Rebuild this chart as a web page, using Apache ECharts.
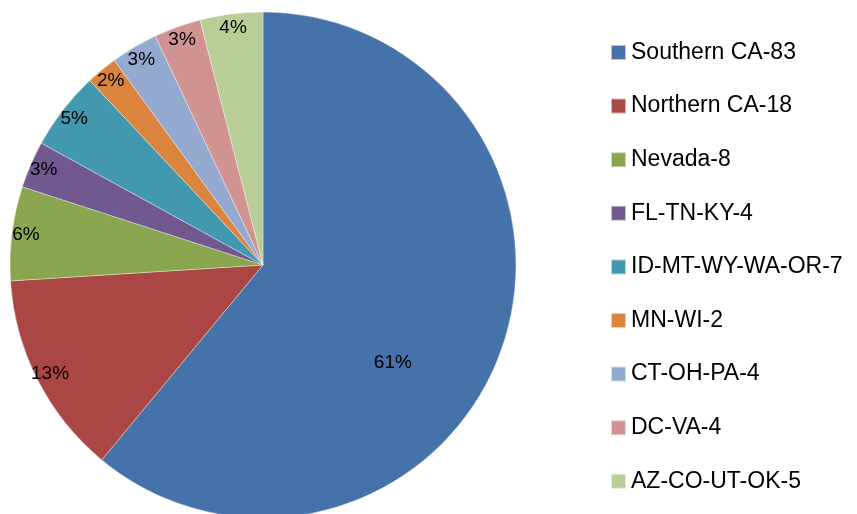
<!DOCTYPE html>
<html>
<head>
<meta charset="utf-8">
<script src="https://cdn.jsdelivr.net/npm/echarts@6/dist/echarts.min.js"></script>
<style>
html,body{margin:0;padding:0;background:#fff;}
#chart{width:857px;height:514px;}
</style>
</head>
<body>
<div id="chart"></div>
<script>
const categories = ['Southern CA-83','Northern CA-18','Nevada-8','FL-TN-KY-4','ID-MT-WY-WA-OR-7','MN-WI-2','CT-OH-PA-4','DC-VA-4','AZ-CO-UT-OK-5'];
const percents = [61, 13, 6, 3, 5, 2, 3, 3, 4];
const colors = ['#4572A8','#AA4643','#89A54E','#71588F','#4198AF','#DB843D','#93A9CF','#D19392','#B9CD96'];

const font = '"Liberation Sans", Arial, sans-serif';
const center = [263, 265];
const R = 253;

const mainData = categories.map((name, i) => {
  const d = { name: name, value: percents[i], itemStyle: { color: colors[i] } };
  if (i === 0) {
    d.label = { show: true };
  }
  return d;
});

const labelData = categories.map((name, i) => ({
  name: name,
  value: percents[i],
  label: { show: i !== 0 }
}));

const option = {
  animation: false,
  backgroundColor: '#fff',
  legend: {
    orient: 'vertical',
    left: 605,
    top: 36,
    itemWidth: 15,
    itemHeight: 15,
    itemGap: 30.6,
    icon: 'rect',
    selectedMode: false,
    data: categories,
    textStyle: { fontFamily: font, fontSize: 23, color: '#000' }
  },
  series: [
    {
      type: 'pie',
      center: center,
      radius: [0, R],
      startAngle: 90,
      clockwise: true,
      avoidLabelOverlap: false,
      silent: true,
      itemStyle: { borderColor: 'rgba(255,255,255,0.6)', borderWidth: 0.6 },
      label: { show: false, position: 'inside', formatter: '{c}%', fontFamily: font, fontSize: 19, color: '#000' },
      labelLayout: function (p) { return p.dataIndex === 0 ? { dx: 8, dy: 54 } : {}; },
      labelLine: { show: false },
      emphasis: { disabled: true },
      data: mainData
    },
    {
      type: 'pie',
      center: center,
      radius: [219, R],
      startAngle: 90,
      clockwise: true,
      avoidLabelOverlap: false,
      silent: true,
      itemStyle: { color: 'rgba(0,0,0,0)', borderWidth: 0 },
      label: { position: 'inside', formatter: '{c}%', fontFamily: font, fontSize: 19, color: '#000' },
      labelLine: { show: false },
      emphasis: { disabled: true },
      data: labelData
    }
  ]
};

const chart = echarts.init(document.getElementById('chart'), null, { renderer: 'canvas' });
chart.setOption(option);
</script>
</body>
</html>
